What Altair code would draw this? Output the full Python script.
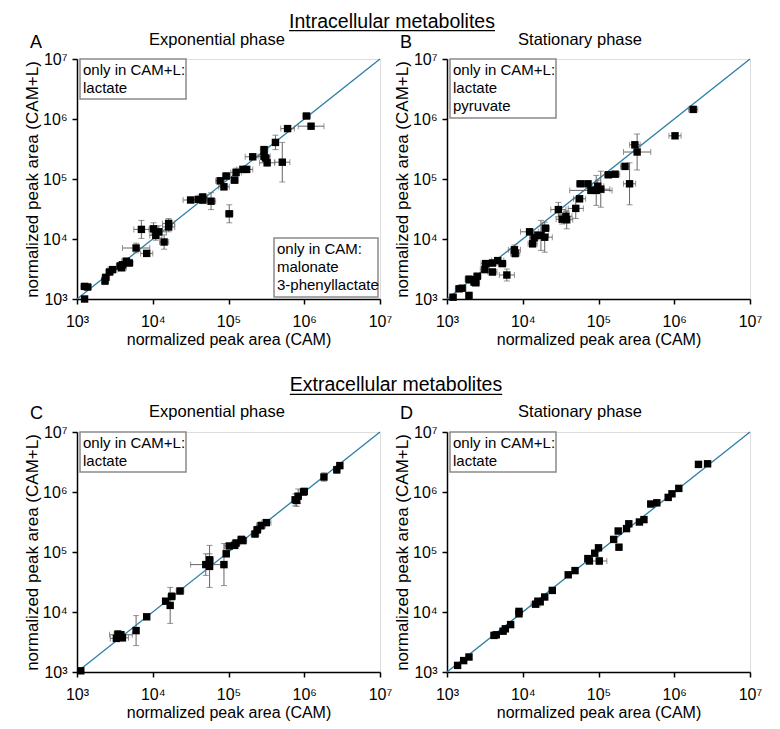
import altair as alt
import pandas as pd

FONT = "Liberation Sans"
SUP = ["⁰", "¹", "²", "³", "⁴", "⁵", "⁶", "⁷"]

# values are log10 of the normalized peak areas
# Panel A: intracellular, exponential phase
a_cam = [3.10, 3.14, 3.10, 3.37, 3.38, 3.43, 3.47, 3.57, 3.60, 3.65, 3.69, 3.59, 3.78, 3.92, 3.85,
         4.01, 4.04, 4.08, 4.15, 4.21, 4.21, 4.50, 4.60, 4.66, 4.66, 4.77, 5.01, 4.89, 4.94, 4.97,
         5.08, 5.10, 5.19, 5.24, 5.32, 5.47, 5.47, 5.49, 5.51, 5.62, 5.71, 5.78, 6.03, 6.09]
a_caml = [3.21, 3.20, 3.00, 3.30, 3.36, 3.45, 3.49, 3.55, 3.57, 3.63, 3.60, 3.52, 3.85, 3.76, 4.16,
          4.17, 4.06, 4.12, 3.95, 4.26, 4.20, 4.65, 4.66, 4.70, 4.65, 4.63, 4.42, 4.97, 4.87, 5.05,
          4.98, 5.11, 5.16, 5.16, 5.37, 5.49, 5.38, 5.35, 5.27, 5.61, 5.28, 5.84, 6.05, 5.88]
a_err_cam = [0.05, 0.05, 0.03, 0.04, 0.05, 0.05, 0.06, 0.05, 0.05, 0.06, 0.05, 0.06, 0.18, 0.08, 0.10,
             0.05, 0.08, 0.10, 0.06, 0.08, 0.08, 0.10, 0.08, 0.06, 0.06, 0.06, 0.05, 0.06, 0.07, 0.05,
             0.05, 0.07, 0.08, 0.08, 0.10, 0.05, 0.08, 0.05, 0.10, 0.04, 0.10, 0.09, 0.05, 0.17]
a_err_caml = [0.03, 0.03, 0.02, 0.06, 0.05, 0.05, 0.05, 0.05, 0.05, 0.05, 0.05, 0.04, 0.08, 0.03, 0.15,
              0.10, 0.08, 0.10, 0.12, 0.08, 0.08, 0.04, 0.05, 0.05, 0.06, 0.14, 0.15, 0.05, 0.05, 0.05,
              0.04, 0.07, 0.05, 0.05, 0.04, 0.05, 0.05, 0.06, 0.05, 0.12, 0.33, 0.04, 0.03, 0.04]

# Panel B: intracellular, stationary phase
b_cam = [3.08, 3.29, 3.16, 3.20, 3.29, 3.32, 3.36, 3.38, 3.40, 3.51, 3.50, 3.60, 3.60, 3.67, 3.73,
         3.79, 3.89, 3.90, 4.09, 4.13, 4.15, 4.24, 4.29, 4.30, 4.20, 4.47, 4.52, 4.57, 4.58, 4.70,
         4.75, 4.76, 4.86, 4.90, 4.97, 5.03, 4.99, 5.13, 5.22, 5.35, 5.41, 5.48, 5.51, 6.01, 6.25]
b_caml = [3.03, 3.06, 3.17, 3.18, 3.33, 3.32, 3.28, 3.27, 3.38, 3.59, 3.49, 3.45, 3.60, 3.64, 3.59,
          3.40, 3.82, 3.76, 4.12, 3.92, 4.02, 4.06, 4.03, 4.18, 4.06, 4.49, 4.33, 4.38, 4.32, 4.51,
          4.67, 4.92, 4.92, 4.81, 4.81, 4.83, 4.88, 5.07, 5.08, 5.21, 4.92, 5.57, 5.45, 5.72, 6.16]
b_err_cam = [0.04, 0.04, 0.05, 0.05, 0.05, 0.05, 0.05, 0.05, 0.05, 0.06, 0.06, 0.06, 0.06, 0.08, 0.05,
             0.10, 0.08, 0.06, 0.12, 0.06, 0.06, 0.10, 0.10, 0.05, 0.06, 0.10, 0.08, 0.08, 0.08, 0.10,
             0.08, 0.05, 0.05, 0.28, 0.10, 0.12, 0.08, 0.05, 0.06, 0.06, 0.08, 0.07, 0.18, 0.08, 0.06]
b_err_caml = [0.03, 0.04, 0.03, 0.03, 0.05, 0.05, 0.04, 0.04, 0.04, 0.05, 0.05, 0.05, 0.05, 0.05, 0.04,
              0.10, 0.08, 0.06, 0.05, 0.05, 0.05, 0.25, 0.25, 0.05, 0.05, 0.12, 0.08, 0.08, 0.15, 0.17,
              0.05, 0.04, 0.04, 0.05, 0.25, 0.30, 0.10, 0.04, 0.04, 0.05, 0.35, 0.05, 0.30, 0.03, 0.05]

# Panel C: extracellular, exponential phase
c_cam = [3.05, 3.52, 3.56, 3.60, 3.58, 3.54, 3.78, 3.92, 4.17, 4.23, 4.25, 4.36, 4.70, 4.75, 4.75,
         4.94, 4.97, 5.01, 5.08, 5.10, 5.17, 5.19, 5.35, 5.38, 5.43, 5.50, 5.88, 5.92, 5.99, 6.00,
         5.90, 6.26, 6.43, 6.47]
c_caml = [3.02, 3.56, 3.58, 3.57, 3.62, 3.63, 3.69, 3.92, 4.18, 4.11, 4.26, 4.35, 4.79, 4.87, 4.76,
          4.79, 4.97, 5.10, 5.11, 5.15, 5.21, 5.19, 5.30, 5.37, 5.44, 5.49, 5.87, 5.93, 6.00, 6.01,
          5.86, 6.25, 6.37, 6.44]
c_err_cam = [0.03, 0.08, 0.06, 0.08, 0.15, 0.05, 0.03, 0.03, 0.04, 0.03, 0.05, 0.05, 0.20, 0.05, 0.04,
             0.03, 0.04, 0.06, 0.05, 0.05, 0.05, 0.05, 0.05, 0.05, 0.06, 0.06, 0.04, 0.04, 0.04, 0.04,
             0.04, 0.03, 0.03, 0.03]
c_err_caml = [0.02, 0.05, 0.05, 0.05, 0.05, 0.06, 0.25, 0.03, 0.04, 0.30, 0.06, 0.05, 0.18, 0.10, 0.35,
              0.35, 0.04, 0.04, 0.04, 0.05, 0.05, 0.05, 0.05, 0.06, 0.06, 0.05, 0.10, 0.12, 0.05, 0.05,
              0.10, 0.07, 0.06, 0.05]

# Panel D: extracellular, stationary phase
d_cam = [3.14, 3.22, 3.29, 3.62, 3.65, 3.74, 3.77, 3.84, 3.95, 3.95, 4.17, 4.20, 4.23, 4.29, 4.39,
         4.60, 4.69, 4.86, 4.88, 5.01, 4.95, 5.00, 5.20, 5.27, 5.26, 5.37, 5.40, 5.54, 5.60, 5.69,
         5.77, 5.92, 5.97, 6.06, 6.32, 6.44]
d_caml = [3.11, 3.19, 3.25, 3.61, 3.62, 3.68, 3.72, 3.79, 4.01, 3.97, 4.13, 4.18, 4.17, 4.25, 4.36,
          4.62, 4.69, 4.89, 4.85, 4.85, 4.98, 5.07, 5.21, 5.08, 5.35, 5.39, 5.47, 5.50, 5.54, 5.80,
          5.82, 5.91, 5.97, 6.06, 6.46, 6.47]
d_err_cam = [0.02, 0.02, 0.02, 0.03, 0.03, 0.04, 0.03, 0.03, 0.03, 0.03, 0.06, 0.04, 0.04, 0.03, 0.03,
             0.03, 0.03, 0.04, 0.04, 0.10, 0.03, 0.03, 0.03, 0.03, 0.03, 0.03, 0.03, 0.03, 0.03, 0.03,
             0.03, 0.03, 0.03, 0.03, 0.03, 0.03]
d_err_caml = [0.02, 0.02, 0.02, 0.03, 0.03, 0.04, 0.03, 0.03, 0.03, 0.03, 0.04, 0.04, 0.04, 0.03, 0.03,
              0.03, 0.03, 0.04, 0.04, 0.06, 0.03, 0.03, 0.03, 0.03, 0.03, 0.03, 0.03, 0.03, 0.03, 0.03,
              0.03, 0.03, 0.03, 0.03, 0.03, 0.03]

decades = [3, 4, 5, 6, 7]
identity_line = [3, 7]

LINE_COLOR = "#2a7fa6"
ERR_COLOR = "#666666"
BOX_COLOR = "#8a8a8a"
W, H = 303, 240
SEC_FS = 19.5

label_expr = "'10' + " + str(SUP).replace(" ", "") + "[datum.value]"

xscale = alt.Scale(domain=[3, 7], nice=False, zero=False)
yscale = alt.Scale(domain=[3, 7], nice=False, zero=False)

common_axis = dict(values=decades, labelExpr=label_expr, grid=False, domainColor="black",
                   domainWidth=1.5, tickColor="black", tickWidth=1.5, tickSize=5,
                   labelFontSize=16, labelFont=FONT, titleFont=FONT, titleFontWeight="normal",
                   labelColor="black", titleColor="black", labelOverlap=False, labelFlush=False)
xaxis = alt.Axis(title="normalized peak area (CAM)", titleFontSize=16, labelPadding=9,
                 titlePadding=2, **common_axis)
yaxis = alt.Axis(title="normalized peak area (CAM+L)", titleFontSize=17, labelPadding=5,
                 titlePadding=1, **common_axis)


def X(f):
    return alt.X(f, type="quantitative", scale=xscale, axis=xaxis)


def Y(f):
    return alt.Y(f, type="quantitative", scale=yscale, axis=yaxis)


one = pd.DataFrame({"k": [0]})


def textlayer(txt, x, y, size, align="left"):
    return alt.Chart(one).mark_text(text=txt, align=align, baseline="alphabetic", font=FONT,
                                    fontSize=size, color="black", lineHeight=18).encode(
        x=alt.value(x), y=alt.value(y))


def box(x0, x1, y0, y1, lines):
    r = alt.Chart(one).mark_rect(fill="white", stroke=BOX_COLOR, strokeWidth=1.5).encode(
        x=alt.value(x0), x2=alt.value(x1), y=alt.value(y0), y2=alt.value(y1))
    t = textlayer(lines, x0 + 3, y0 + 15.5, 15)
    return [r, t]


def panel(cam, caml, ecam, ecaml, letter, phase, phase_cx, letter_y, phase_y, notes, notes2=None,
          section=None):
    df = pd.DataFrame({"x": cam, "y": caml, "ex": ecam, "ey": ecaml})
    base = alt.Chart(df).transform_calculate(
        xlo="datum.x - datum.ex", xhi="datum.x + datum.ex",
        ylo="datum.y - datum.ey", yhi="datum.y + datum.ey")
    line = alt.Chart(pd.DataFrame({"x": identity_line, "y": identity_line})).mark_line(
        color=LINE_COLOR, strokeWidth=1.3).encode(x=X("x"), y=Y("y"))
    xerr = base.mark_rule(color=ERR_COLOR, strokeWidth=1).encode(x=X("xlo"), x2="xhi", y=Y("y"))
    yerr = base.mark_rule(color=ERR_COLOR, strokeWidth=1).encode(x=X("x"), y=Y("ylo"), y2="yhi")
    caps = [
        base.mark_tick(orient="vertical", size=6, thickness=1, color=ERR_COLOR).encode(x=X("xlo"), y=Y("y")),
        base.mark_tick(orient="vertical", size=6, thickness=1, color=ERR_COLOR).encode(x=X("xhi"), y=Y("y")),
        base.mark_tick(orient="horizontal", size=6, thickness=1, color=ERR_COLOR).encode(x=X("x"), y=Y("ylo")),
        base.mark_tick(orient="horizontal", size=6, thickness=1, color=ERR_COLOR).encode(x=X("x"), y=Y("yhi")),
    ]
    pts = base.mark_square(size=55, color="black", opacity=1).encode(x=X("x"), y=Y("y"))
    layers = [line, xerr, yerr] + caps + [pts]
    layers += box(3, 109, 0, 40 if len(notes) == 2 else 59, notes)
    if notes2:
        layers += box(197, 301, 179, 238, notes2)
    layers.append(textlayer(letter, -47, letter_y, 18))
    layers.append(textlayer(phase, phase_cx, phase_y, 16.5, align="center"))
    if section:
        stxt, scx, sy = section
        half = (10.89 if stxt.startswith("E") else 10.56) * SEC_FS / 2
        layers.append(textlayer(stxt, scx, sy, SEC_FS, align="center"))
        layers.append(alt.Chart(one).mark_rule(color="black", strokeWidth=1.2).encode(
            x=alt.value(scx - half), x2=alt.value(scx + half), y=alt.value(sy + 3)))
    return alt.layer(*layers).properties(width=W, height=H)


pA = panel(a_cam, a_caml, a_err_cam, a_err_caml, "A", "Exponential phase", 140, -11, -14,
           ["only in CAM+L:", "lactate"], ["only in CAM:", "malonate", "3-phenyllactate"],
           section=("Intracellular metabolites", 315, -31.3))
pB = panel(b_cam, b_caml, b_err_cam, b_err_caml, "B", "Stationary phase", 133, -11, -14,
           ["only in CAM+L:", "lactate", "pyruvate"])
pC = panel(c_cam, c_caml, c_err_cam, c_err_caml, "C", "Exponential phase", 140, -13.4, -14.7,
           ["only in CAM+L:", "lactate"],
           section=("Extracellular metabolites", 319, -40.7))
pD = panel(d_cam, d_caml, d_err_cam, d_err_caml, "D", "Stationary phase", 133, -13.4, -14.7,
           ["only in CAM+L:", "lactate"])

chart = alt.concat(pA, pB, pC, pD, columns=2, spacing={"row": 133, "column": 67},
                   bounds="flush").properties(
    padding={"left": 14, "top": 3, "right": 5, "bottom": 5}
).configure_view(stroke=None).configure(background="white")

chart.save("out.html", embed_options={"renderer": "svg", "actions": False})
